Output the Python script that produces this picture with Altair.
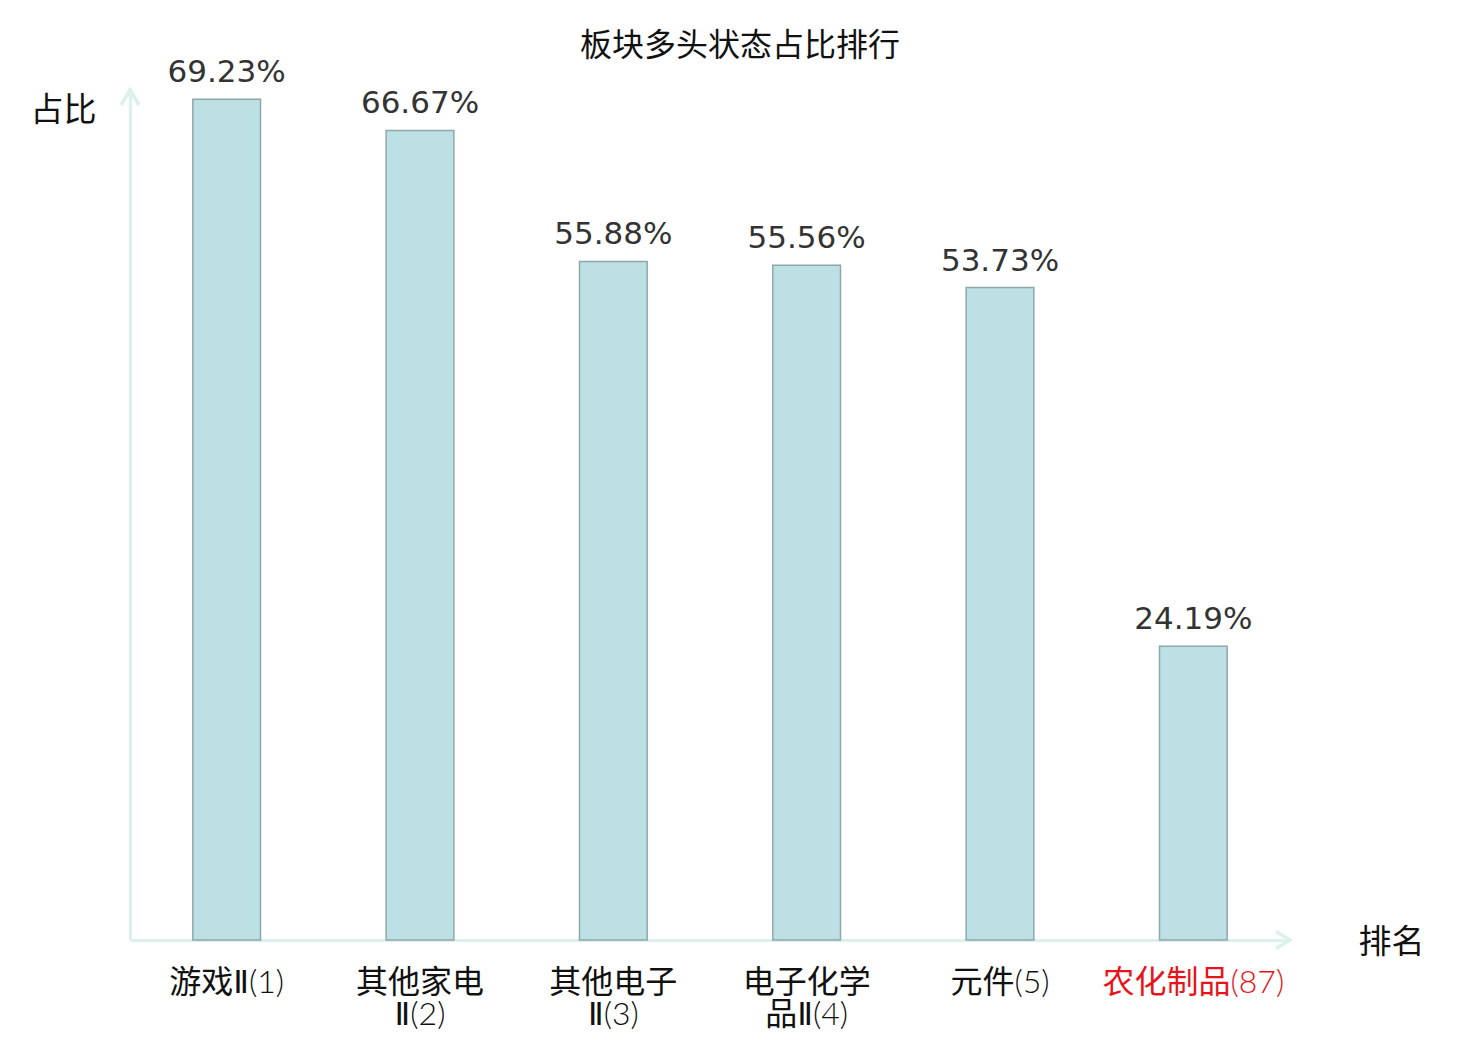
import altair as alt
import pandas as pd

# ---- data ----
categories = ["游戏Ⅱ(1)", "其他家电\nⅡ(2)", "其他电子\nⅡ(3)", "电子化学\n品Ⅱ(4)", "元件(5)", "农化制品(87)"]
ratios = [69.23, 66.67, 55.88, 55.56, 53.73, 24.19]
value_labels = ["69.23%", "66.67%", "55.88%", "55.56%", "53.73%", "24.19%"]
highlight = "农化制品(87)"
y_max = 70

df = pd.DataFrame({"cat": categories, "ratio": ratios, "label": value_labels})

AXIS_COLOR = "#dcf1ee"
CJK = "Noto Sans CJK SC"
LABEL_FONT = "'Lato Light', 'DejaVu Sans ExtraLight', 'DejaVu Sans', 'Noto Sans CJK SC'"

x_enc = alt.X(
    "cat:N",
    sort=categories,
    scale=alt.Scale(paddingInner=0.65, paddingOuter=0.325),
    axis=alt.Axis(
        title="排名",
        titleAngle=0,
        titleX=1261,
        titleY=2,
        titleAlign="center",
        titleBaseline="middle",
        titleFont=CJK,
        titleFontSize=33,
        titleFontWeight="normal",
        titleColor="#111111",
        labelAngle=0,
        labelFont=LABEL_FONT,
        labelFontSize=32,
        labelBaseline="top",
        labelPadding=27,
        labelLineHeight=32,
        labelLimit=400,
        labelExpr="split(datum.value, '\\n')",
        labelColor={"expr": "indexof(datum.value, '%s') >= 0 ? '#e8141b' : '#111111'" % highlight},
        ticks=False,
        domain=True,
        domainColor=AXIS_COLOR,
        domainWidth=3,
        labelOverlap=False,
    ),
)

y_enc = alt.Y(
    "ratio:Q",
    scale=alt.Scale(domain=[0, y_max], nice=False),
    axis=alt.Axis(
        title="占比",
        titleAngle=0,
        titleX=-67,
        titleY=20,
        titleAlign="center",
        titleBaseline="middle",
        titleFont=CJK,
        titleFontSize=33,
        titleFontWeight="normal",
        titleColor="#111111",
        labels=False,
        ticks=False,
        grid=False,
        domain=True,
        domainColor=AXIS_COLOR,
        domainWidth=3,
    ),
)

base = alt.Chart(df)

bars = base.mark_bar(fill="#bce0e3", stroke="#8ea8aa", strokeWidth=1.5).encode(x=x_enc, y=y_enc)

texts = base.mark_text(
    baseline="alphabetic", dy=-17, font="DejaVu Sans", fontSize=31, color="#333333"
).encode(x=alt.X("cat:N", sort=categories), y="ratio:Q", text="label:N")

up_arrow = alt.Chart(pd.DataFrame({"v": [y_max]})).mark_point(
    shape="M-0.6,1L0,0L0.6,1", size=900, filled=False, stroke=AXIS_COLOR, strokeWidth=3.5, opacity=1
).encode(x=alt.value(0), y=alt.Y("v:Q"))

right_arrow = alt.Chart(pd.DataFrame({"v": [0]})).mark_point(
    shape="M-1,-0.6L0,0L-1,0.6", size=784, filled=False, stroke=AXIS_COLOR, strokeWidth=3.5, opacity=1
).encode(x=alt.value(1160), y=alt.Y("v:Q"))

chart = (
    alt.layer(bars, texts, up_arrow, right_arrow)
    .properties(
        width=1160,
        height=850,
        title=alt.TitleParams(
            "板块多头状态占比排行",
            font=CJK,
            fontSize=32,
            fontWeight="normal",
            color="#111111",
            dx=30,
            offset=-6,
            anchor="middle",
            frame="group",
        ),
        autosize=alt.AutoSizeParams(type="none"),
        padding={"left": 122, "top": 82, "right": 174, "bottom": 96},
    )
    .configure_view(stroke=None)
)

chart.save("out.html", embed_options={"renderer": "svg", "actions": False})
